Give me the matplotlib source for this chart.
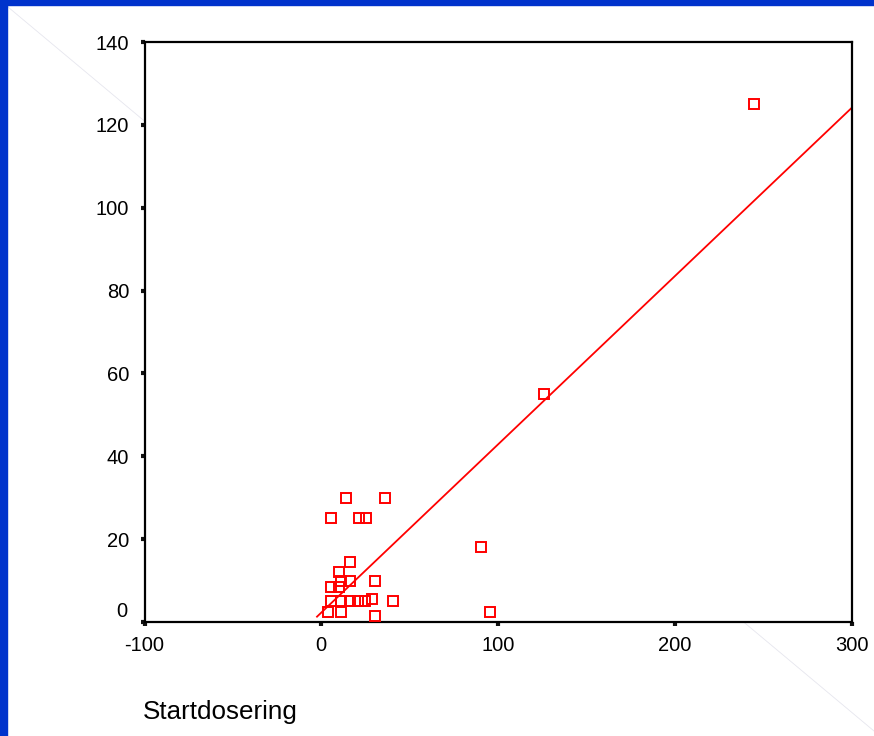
import numpy as np
import matplotlib
matplotlib.use("Agg")
import matplotlib.pyplot as plt
from matplotlib.lines import Line2D

plt.rcParams['font.family'] = ['Liberation Sans', 'DejaVu Sans']

# Startdosering (x) vs. value (y)
x_vals = [245.0, 126.0, 90.5, 95.5, 14.0, 35.8, 5.6, 21.1, 25.4, 16.0,
          9.8, 10.9, 16.0, 30.5, 5.5, 10.2, 5.5, 10.9, 16.0, 20.7,
          24.5, 28.6, 40.8, 3.8, 10.9, 30.5]
y_vals = [125.0, 55.0, 18.0, 2.5, 30.0, 30.0, 25.0, 25.0, 25.0, 14.5,
          12.0, 10.0, 10.0, 10.0, 8.5, 8.5, 5.0, 5.0, 5.0, 5.0,
          5.0, 5.5, 5.0, 2.5, 2.5, 1.5]

# fitted line as drawn in the original (slope / intercept)
fit_slope = 0.406
fit_intercept = 2.26
fit_range = [-2.4, 300]

x_ticks = [-100, 0, 100, 200, 300]
y_ticks = [0, 20, 40, 60, 80, 100, 120, 140]

fig = plt.figure(figsize=(8.74, 7.36), dpi=100)

# slide background: blue edges and faint diagonal
W, H = 874, 736
fig.add_artist(Line2D([8 / W, 874 / W], [1 - 7 / H, 1 - 731 / H],
                      color='#e6e6ee', lw=0.6, zorder=0))
fig.patches.append(plt.Rectangle((0, 0), 7 / W, 1, transform=fig.transFigure,
                                 color='#0033cc', zorder=5))
fig.patches.append(plt.Rectangle((0, 1 - 5 / H), 1, 5 / H, transform=fig.transFigure,
                                 color='#0033cc', zorder=5))

ax = fig.add_axes([144.5 / W, 1 - 622 / H, (851.5 - 144.5) / W, (622 - 42) / H])
ax.set_xlim(-100, 300)
ax.set_ylim(0, 140)

fx = np.array(fit_range)
ax.plot(fx, fit_intercept + fit_slope * fx, color='#ff0000', lw=1.3, zorder=2)
ax.plot(x_vals, y_vals, 's', ms=6.8, mfc='none', mec='#ff0000', mew=1.4,
        zorder=3, clip_on=False)

for s in ax.spines.values():
    s.set_linewidth(1.6)
    s.set_color('black')

ax.set_xticks(x_ticks)
ax.set_yticks(y_ticks)
ax.set_xticklabels([str(v) for v in x_ticks])
ax.set_yticklabels(['' if v == 0 else str(v) for v in y_ticks])
ax.tick_params(direction='out', length=3, width=3, color='#111111',
               labelsize=14.5, pad=7)
ax.tick_params(axis='y', pad=8)
# the 0 label sits a bit higher than its tick
ax.annotate('0', xy=(0, 0), xycoords=('axes fraction', 'data'),
            xytext=(-12, 7.5), textcoords='offset points',
            ha='right', va='center', fontsize=14.5)

fig.text(143 / W, 1 - 719 / H, 'Startdosering', fontsize=18.7,
         ha='left', va='baseline')

fig.savefig('out.png', dpi=100)
